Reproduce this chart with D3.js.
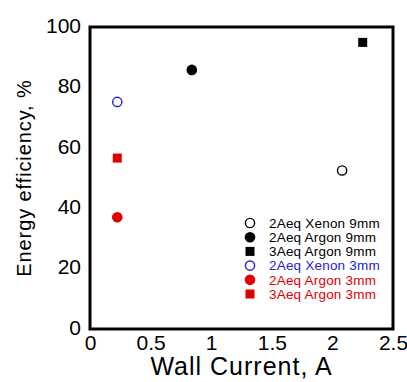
<!DOCTYPE html>
<html>
<head>
<meta charset="utf-8">
<script src="https://cdn.jsdelivr.net/npm/d3@7"></script>
<style>
  body { margin: 0; background: #fff; }
  svg { display: block; font-family: "Liberation Sans", Arial, sans-serif; }
</style>
</head>
<body>
<svg id="plotSvg" width="407" height="382"></svg>
<script>
// data
var seriesNames = ["2Aeq Xenon 9mm", "2Aeq Argon 9mm", "3Aeq Argon 9mm",
                   "2Aeq Xenon 3mm", "2Aeq Argon 3mm", "3Aeq Argon 3mm"];
var seriesCurrent = [2.08, 0.84, 2.25, 0.225, 0.225, 0.225];
var seriesEfficiency = [52.5, 85.8, 94.9, 75.2, 37, 56.6];
var seriesShape = ["openCircle", "circle", "square", "openCircle", "circle", "square"];
var seriesColor = ["#000000", "#000000", "#000000", "#2222dd", "#e00000", "#e00000"];
var xTicks = [0, 0.5, 1, 1.5, 2, 2.5];
var yTicks = [0, 20, 40, 60, 80, 100];

var svg = d3.select("#plotSvg");
var margin = {top: 27, right: 14, bottom: 53, left: 90};
var width = 407 - margin.left - margin.right,
    height = 382 - margin.top - margin.bottom;

var g = svg.append("g").attr("transform", "translate(" + margin.left + "," + margin.top + ")");

var x = d3.scaleLinear().domain([0, 2.5]).range([0, width]);
var y = d3.scaleLinear().domain([0, 100]).range([height, 0]);

var xAxis = d3.axisBottom(x).tickValues(xTicks).tickSize(0).tickPadding(6)
    .tickFormat(function (d) { return d; });
var yAxis = d3.axisLeft(y).tickValues(yTicks).tickSize(0).tickPadding(9);

var xg = g.append("g").attr("transform", "translate(0," + height + ")").call(xAxis);
var yg = g.append("g").call(yAxis);
[xg, yg].forEach(function (a) {
    a.select(".domain").remove();
    a.selectAll("text").attr("font-size", 21).attr("fill", "#000")
        .attr("font-family", "'Liberation Sans', Arial, sans-serif");
});
yg.selectAll("text").attr("dy", "0.25em");

// frame
g.append("rect")
    .attr("width", width).attr("height", height)
    .attr("fill", "none").attr("stroke", "#000").attr("stroke-width", 3);

function drawMarker(sel, shape, color, cx, cy) {
    if (shape == "square") {
        sel.append("rect")
            .attr("x", cx - 4.5).attr("y", cy - 4.5)
            .attr("width", 9).attr("height", 9)
            .attr("fill", color);
    } else if (shape == "circle") {
        sel.append("circle").attr("cx", cx).attr("cy", cy).attr("r", 5.3)
            .attr("fill", color);
    } else {
        sel.append("circle").attr("cx", cx).attr("cy", cy).attr("r", 4.6)
            .attr("fill", "#fff").attr("stroke", color).attr("stroke-width", 1.4);
    }
}

seriesNames.forEach(function (name, i) {
    drawMarker(g, seriesShape[i], seriesColor[i], x(seriesCurrent[i]), y(seriesEfficiency[i]));
});

// legend
var legend = g.append("g").attr("transform", "translate(160,196)");
seriesNames.forEach(function (name, i) {
    var ly = i * 14.2;
    drawMarker(legend, seriesShape[i], seriesColor[i], 0, ly);
    legend.append("text")
        .attr("x", 19).attr("y", ly).attr("dy", "0.36em")
        .attr("font-size", 13.5)
        .attr("letter-spacing", 0.2)
        .attr("fill", seriesColor[i])
        .text(name);
});

// axis titles
svg.append("text")
    .attr("x", margin.left + width / 2).attr("y", 375)
    .attr("text-anchor", "middle").attr("font-size", 25)
    .attr("letter-spacing", 1)
    .text("Wall Current, A");

svg.append("text")
    .attr("transform", "translate(31," + 178 + ") rotate(-90)")
    .attr("text-anchor", "middle").attr("font-size", 20)
    .attr("letter-spacing", 0.9)
    .text("Energy efficiency, %");
</script>
</body>
</html>
